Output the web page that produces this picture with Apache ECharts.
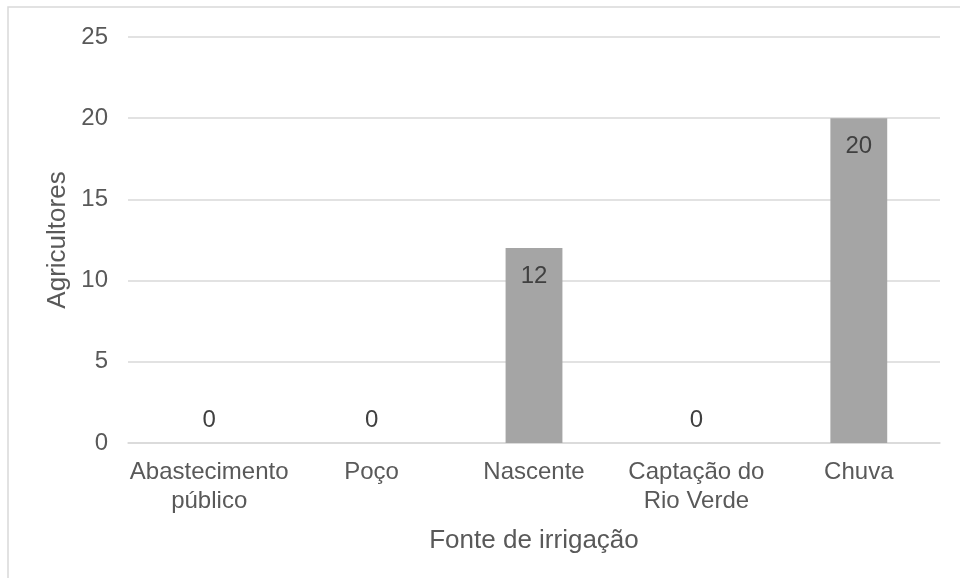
<!DOCTYPE html>
<html>
<head>
<meta charset="utf-8">
<script src="https://cdn.jsdelivr.net/npm/echarts@6/dist/echarts.min.js"></script>
<style>
  html, body { margin: 0; padding: 0; background: #ffffff; }
  #chart { width: 960px; height: 578px; }
</style>
</head>
<body>
<div id="chart"></div>
<script>
// Irrigation sources and number of farmers using each one
const categories = ['Abastecimento\npúblico', 'Poço', 'Nascente', 'Captação do\nRio Verde', 'Chuva'];
const farmers = [0, 0, 12, 0, 20];
const yTicks = { min: 0, max: 25, interval: 5 };
const xAxisTitle = 'Fonte de irrigação';
const yAxisTitle = 'Agricultores';

const FONT = '"Liberation Sans", Arial, sans-serif';
const TEXT = '#595959';
const GRID = '#d9d9d9';

// Non-zero bars carry their value inside the top of the bar; zero bars show it above the axis
const barData = farmers.map(v => ({
  value: v,
  label: v > 0
    ? { position: 'insideTop', distance: 16 }
    : { position: 'top', distance: 11 }
}));

const chart = echarts.init(document.getElementById('chart'), null, { renderer: 'canvas' });
chart.setOption({
  backgroundColor: '#ffffff',
  animation: false,
  textStyle: { fontFamily: FONT },
  graphic: [{
    type: 'rect',
    silent: true,
    shape: { x: 8, y: 7, width: 1000, height: 1000 },
    style: { fill: 'none', stroke: GRID, lineWidth: 1.5 }
  }],
  grid: { left: 128, right: 20, top: 37, bottom: 135, containLabel: false },
  xAxis: {
    type: 'category',
    data: categories,
    name: xAxisTitle,
    nameLocation: 'middle',
    nameGap: 85,
    nameTextStyle: { color: TEXT, fontSize: 26, fontFamily: FONT },
    axisLine: { show: true, lineStyle: { color: GRID, width: 1.5 } },
    axisTick: { show: false },
    axisLabel: {
      interval: 0,
      color: TEXT,
      fontSize: 24,
      lineHeight: 29,
      margin: 15,
      fontFamily: FONT
    }
  },
  yAxis: {
    type: 'value',
    min: yTicks.min,
    max: yTicks.max,
    interval: yTicks.interval,
    name: yAxisTitle,
    nameLocation: 'middle',
    nameGap: 55,
    nameRotate: 90,
    nameTextStyle: { color: TEXT, fontSize: 26, fontFamily: FONT },
    axisLine: { show: false },
    axisTick: { show: false },
    axisLabel: { color: TEXT, fontSize: 24, margin: 20, fontFamily: FONT },
    splitLine: { lineStyle: { color: GRID, width: 1.5 } }
  },
  series: [{
    type: 'bar',
    data: barData,
    barWidth: '35%',
    itemStyle: { color: '#a5a5a5' },
    label: {
      show: true,
      color: '#404040',
      fontSize: 24,
      fontFamily: FONT
    }
  }]
});
</script>
</body>
</html>
